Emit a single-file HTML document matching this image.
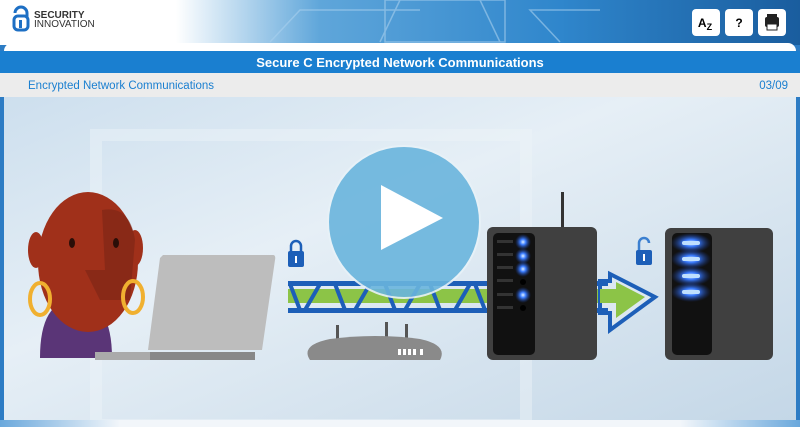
<!DOCTYPE html>
<html><head><meta charset="utf-8"><style>
html,body{margin:0;padding:0;width:800px;height:427px;overflow:hidden;font-family:"Liberation Sans",sans-serif;}
</style></head><body>
<svg width="800" height="427" viewBox="0 0 800 427" xmlns="http://www.w3.org/2000/svg">
<defs>
<linearGradient id="hdr" x1="0" x2="1" y1="0" y2="0">
<stop offset="0" stop-color="#ffffff"/><stop offset="0.22" stop-color="#ffffff"/><stop offset="0.4" stop-color="#5fa6da"/><stop offset="0.7" stop-color="#2f86cc"/><stop offset="1" stop-color="#1a5d9e"/></linearGradient>
<linearGradient id="bg" x1="0" x2="1" y1="0" y2="1">
<stop offset="0" stop-color="#cddfee"/><stop offset="0.4" stop-color="#e6eff6"/><stop offset="1" stop-color="#c4d7e7"/></linearGradient>
<linearGradient id="bot" x1="0" x2="1"><stop offset="0" stop-color="#6aa8dc"/><stop offset="0.15" stop-color="#f2f6fa"/><stop offset="0.85" stop-color="#f2f6fa"/><stop offset="1" stop-color="#6aa8dc"/></linearGradient>
<radialGradient id="led"><stop offset="0" stop-color="#e0f0ff"/><stop offset="0.35" stop-color="#3a7cff"/><stop offset="1" stop-color="#1a3a90" stop-opacity="0"/></radialGradient>
</defs>
<rect width="800" height="427" fill="#2d7cc4"/>
<rect width="800" height="45" fill="url(#hdr)"/>
<g stroke="#a9d0ee" stroke-width="1.5" fill="none" opacity="0.6">
<path d="M270 42 L300 10 L420 10"/><path d="M380 42 L400 0"/><path d="M500 42 L480 0"/><path d="M560 42 L530 10 L600 10"/>
<rect x="385" y="0" width="120" height="42"/></g>
<path d="M15 13 a6 6 0 0 1 12 0 v4" fill="none" stroke="#1d6fc4" stroke-width="3"/>
<rect x="14" y="16" width="14" height="14" rx="4" fill="none" stroke="#1d6fc4" stroke-width="3"/>
<rect x="19" y="20" width="3" height="8" fill="#1d6fc4"/>
<text x="34" y="18" font-size="10" font-weight="bold" fill="#333">SECURITY</text>
<text x="34" y="27" font-size="10" fill="#333">INNOVATION</text>
<g font-size="12" font-weight="bold" text-anchor="middle">
<rect x="692" y="9" width="28" height="27" rx="4" fill="#fff"/><text x="705" y="27">A<tspan font-size="9" dy="3">Z</tspan></text>
<rect x="725" y="9" width="28" height="27" rx="4" fill="#fff"/><text x="739" y="27">?</text>
<rect x="758" y="9" width="28" height="27" rx="4" fill="#fff"/>
<rect x="765" y="17" width="14" height="10" rx="2" fill="#222"/><rect x="767" y="14" width="10" height="4" fill="#222"/><rect x="767" y="24" width="10" height="6" fill="#fff" stroke="#222"/>
</g>
<rect x="4" y="43" width="792" height="384" rx="8" fill="#fff"/>
<rect x="0" y="51" width="800" height="22" fill="#1a7fd0"/>
<text x="400" y="67" font-size="13" font-weight="bold" fill="#fff" text-anchor="middle">Secure C Encrypted Network Communications</text>
<rect x="0" y="73" width="800" height="24" fill="#ececec"/>
<text x="28" y="89" font-size="11.5" fill="#1a7fd0">Encrypted Network Communications</text>
<text x="788" y="89" font-size="11.5" fill="#1a7fd0" text-anchor="end">03/09</text>
<rect x="4" y="97" width="792" height="323" fill="url(#bg)"/>
<rect x="96" y="135" width="430" height="290" fill="none" stroke="#eef4f9" stroke-width="12" opacity="0.45"/>
<rect x="0" y="420" width="800" height="7" fill="url(#bot)"/>
<!-- person -->
<path d="M40 358 Q40 300 75 300 Q112 300 112 358z" fill="#5a3577"/>
<ellipse cx="88" cy="262" rx="50" ry="70" fill="#a0301a"/>
<ellipse cx="36" cy="250" rx="8" ry="18" fill="#a0301a"/>
<ellipse cx="135" cy="248" rx="8" ry="18" fill="#a0301a"/>
<path d="M102 210 Q130 205 135 240 L130 300 L100 300 L85 270 L105 270z" fill="#7a2515" opacity="0.6"/>
<ellipse cx="72" cy="243" rx="3" ry="5" fill="#2a0e08"/><ellipse cx="116" cy="243" rx="3" ry="5" fill="#2a0e08"/>
<ellipse cx="40" cy="299" rx="10" ry="16" fill="none" stroke="#f0b030" stroke-width="4"/>
<ellipse cx="133" cy="297" rx="10" ry="16" fill="none" stroke="#f0b030" stroke-width="4"/>
<!-- laptop -->
<path d="M163 255 L273 255 Q276 255 275 260 L262 350 L148 350 L160 258z" fill="#bdbdbd"/>
<rect x="95" y="352" width="160" height="8" fill="#888"/><rect x="95" y="352" width="55" height="8" fill="#aaa"/>
<!-- lock -->
<path d="M291 251 v-5 a5 5 0 0 1 10 0 v5" fill="none" stroke="#1d5fb8" stroke-width="2.5"/>
<rect x="288" y="251" width="16" height="16" rx="2" fill="#1d5fb8"/><rect x="295" y="256" width="2" height="7" fill="#fff"/>
<!-- bridge -->
<rect x="288" y="289" width="330" height="14" fill="#8cc447"/>
<path d="M610 274 L655 297 L610 330 L610 313 L600 313 L600 281 L610 281z" fill="#dde8f0" stroke="#1d5fb8" stroke-width="4" stroke-linejoin="miter"/>
<path d="M600 289 L616 289 L616 282 L645 297 L616 318 L616 303 L600 303z" fill="#8cc447"/>
<rect x="288" y="281" width="320" height="5" fill="#1d5fb8"/>
<rect x="288" y="308" width="320" height="5" fill="#1d5fb8"/>
<g stroke="#1d5fb8" stroke-width="4" fill="none">
<path d="M290 284 L300 310 M320 284 L305 310 M335 284 L345 310 M370 284 L355 310 M385 284 L395 310 M420 284 L405 310 M430 284 L440 310 M470 284 L455 310 M475 284 L485 310"/>
</g>
<!-- play -->
<circle cx="404" cy="222" r="76" fill="#6ab5dd" opacity="0.9" stroke="#e8f2f8" stroke-width="2"/>
<path d="M381 185 L381 250 L443 218z" fill="#fff"/>
<!-- router -->
<rect x="336" y="325" width="3" height="15" fill="#555"/><rect x="385" y="322" width="3" height="18" fill="#555"/><rect x="405" y="324" width="3" height="16" fill="#555"/>
<path d="M310 360 Q300 345 330 339 Q375 333 420 339 Q448 345 440 360z" fill="#8a8a8a"/>
<g fill="#fff"><rect x="398" y="349" width="3" height="6"/><rect x="403" y="349" width="3" height="6"/><rect x="408" y="349" width="3" height="6"/><rect x="413" y="349" width="3" height="6"/><rect x="420" y="349" width="3" height="6"/></g>
<!-- antenna -->
<rect x="561" y="192" width="3" height="35" fill="#333"/>
<!-- server1 -->
<rect x="487" y="227" width="110" height="133" rx="6" fill="#404040"/>
<rect x="493" y="233" width="42" height="122" rx="5" fill="#111"/>
<g fill="#333"><rect x="497" y="240" width="16" height="3"/><rect x="497" y="253" width="16" height="3"/><rect x="497" y="266" width="16" height="3"/><rect x="497" y="279" width="16" height="3"/><rect x="497" y="293" width="16" height="3"/><rect x="497" y="306" width="16" height="3"/></g>
<g fill="url(#led)"><circle cx="523" cy="242" r="8"/><circle cx="523" cy="256" r="8"/><circle cx="523" cy="269" r="8"/><circle cx="523" cy="295" r="8"/></g>
<circle cx="523" cy="282" r="3" fill="#000"/><circle cx="523" cy="308" r="3" fill="#000"/>
<!-- unlock -->
<path d="M639 250 v-7 a5 5 0 0 1 10 0" fill="none" stroke="#3b7fd0" stroke-width="2.5"/>
<rect x="636" y="250" width="16" height="15" rx="2" fill="#1d5fb8"/><rect x="643" y="254" width="2" height="7" fill="#fff"/>
<!-- server2 -->
<rect x="665" y="228" width="108" height="132" rx="6" fill="#404040"/>
<rect x="672" y="233" width="40" height="122" rx="5" fill="#111"/>
<g fill="url(#led)"><ellipse cx="691" cy="243" rx="20" ry="10"/><ellipse cx="691" cy="259" rx="20" ry="10"/><ellipse cx="691" cy="276" rx="20" ry="10"/><ellipse cx="691" cy="292" rx="20" ry="10"/></g>
<g fill="#bfe0ff"><rect x="682" y="241" width="18" height="4" rx="2"/><rect x="682" y="257" width="18" height="4" rx="2"/><rect x="682" y="274" width="18" height="4" rx="2"/><rect x="682" y="290" width="18" height="4" rx="2"/></g>
</svg>
</body></html>
